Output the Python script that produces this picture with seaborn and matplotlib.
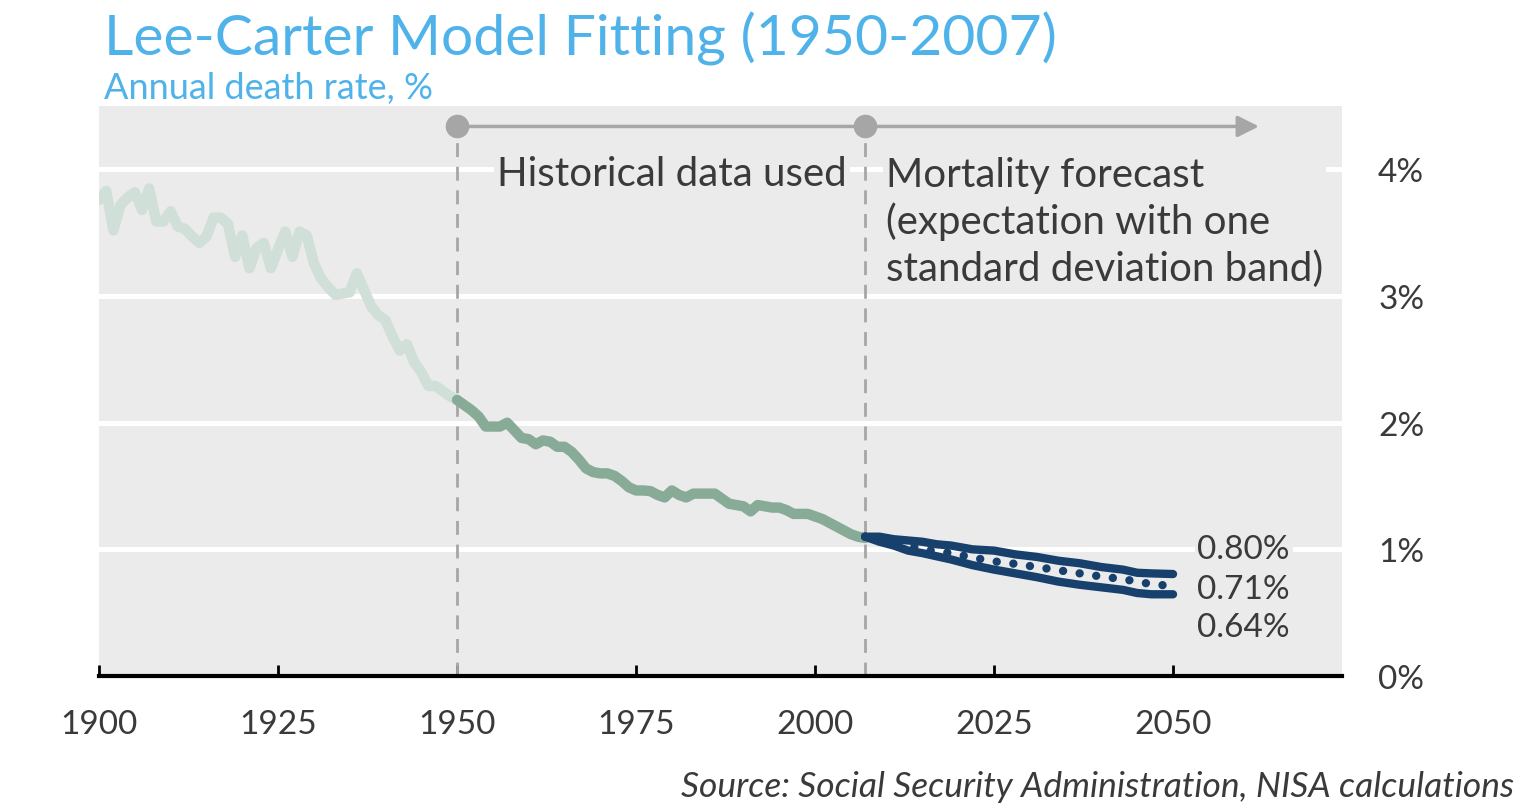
import matplotlib
matplotlib.use("Agg")
import matplotlib.pyplot as plt
import seaborn as sns
import pandas as pd
from matplotlib import font_manager

# ---- data (annual death rate, %) ----
early_years = list(range(1900, 1951))
early_rate = [3.76, 3.83, 3.52, 3.72, 3.78, 3.82, 3.68, 3.85, 3.59, 3.59,
              3.67, 3.55, 3.53, 3.47, 3.42, 3.47, 3.62, 3.62, 3.57, 3.31,
              3.48, 3.22, 3.38, 3.42, 3.22, 3.37, 3.51, 3.31, 3.51, 3.48,
              3.26, 3.14, 3.07, 3.01, 3.02, 3.03, 3.18, 3.05, 2.92, 2.85,
              2.81, 2.68, 2.57, 2.62, 2.48, 2.40, 2.29, 2.29, 2.25, 2.21,
              2.18]

fit_years = list(range(1950, 2008))
fit_rate = [2.18, 2.14, 2.10, 2.05, 1.97, 1.97, 1.97, 2.00, 1.94, 1.88,
            1.87, 1.83, 1.86, 1.85, 1.81, 1.81, 1.77, 1.71, 1.64, 1.61,
            1.60, 1.60, 1.58, 1.54, 1.49, 1.465, 1.465, 1.46, 1.43, 1.41,
            1.465, 1.43, 1.41, 1.44, 1.44, 1.44, 1.44, 1.40, 1.36, 1.35,
            1.34, 1.30, 1.35, 1.34, 1.33, 1.33, 1.31, 1.28, 1.28, 1.28,
            1.26, 1.24, 1.21, 1.18, 1.15, 1.12, 1.10, 1.09]

fc_years = [2007, 2009, 2011, 2013, 2015, 2017, 2019, 2022, 2025, 2028,
            2031, 2034, 2037, 2040, 2043, 2045, 2047, 2050]
fc_upper = [1.10, 1.10, 1.08, 1.07, 1.06, 1.04, 1.03, 1.00, 0.99, 0.96,
            0.94, 0.91, 0.89, 0.86, 0.84, 0.815, 0.81, 0.805]
fc_lower = [1.10, 1.06, 1.03, 0.99, 0.97, 0.945, 0.92, 0.875, 0.84, 0.81,
            0.78, 0.745, 0.72, 0.70, 0.68, 0.655, 0.645, 0.645]
fc_mean = [1.10, 1.08, 1.05, 1.03, 1.00, 0.985, 0.97, 0.935, 0.905, 0.885,
           0.86, 0.835, 0.81, 0.785, 0.765, 0.745, 0.725, 0.71]

end_labels = ["0.80%", "0.71%", "0.64%"]
x_ticks = [1900, 1925, 1950, 1975, 2000, 2025, 2050]
y_ticks = [0, 1, 2, 3, 4]
y_ticklabels = ["0%", "1%", "2%", "3%", "4%"]

# ---- style ----
sns.set_theme(style="white")
names = {f.name for f in font_manager.fontManager.ttflist}
base_font = "Lato" if "Lato" in names else "DejaVu Sans"
plt.rcParams["font.family"] = [base_font, "DejaVu Sans"]

BG = "#ebebeb"
TXT = "#3a3a3a"
GRAY = "#a6a6a6"
LIGHT_GREEN = "#d0dfd7"
GREEN = "#88ab98"
NAVY = "#17406d"
BLUE = "#4fb3ea"

fig = plt.figure(figsize=(15.36, 8.12), dpi=100)
ax = fig.add_axes([0.0645, 0.1663, 0.8092, 0.7017])
ax.set_facecolor(BG)

early = pd.DataFrame({"year": early_years, "rate": early_rate})
fit = pd.DataFrame({"year": fit_years, "rate": fit_rate})
fc = pd.DataFrame({"year": fc_years, "upper": fc_upper,
                   "lower": fc_lower, "mean": fc_mean})

for y in y_ticks[1:]:
    ax.axhline(y, color="white", lw=3.6, zorder=1)

sns.lineplot(data=early, x="year", y="rate", ax=ax, color=LIGHT_GREEN,
             lw=7.5, zorder=3, solid_capstyle="round", solid_joinstyle="round")
sns.lineplot(data=fit, x="year", y="rate", ax=ax, color=GREEN,
             lw=7.5, zorder=3, solid_capstyle="round", solid_joinstyle="round")
sns.lineplot(data=fc, x="year", y="upper", ax=ax, color=NAVY, lw=6,
             zorder=4, solid_capstyle="round", solid_joinstyle="round")
sns.lineplot(data=fc, x="year", y="lower", ax=ax, color=NAVY, lw=6,
             zorder=4, solid_capstyle="round", solid_joinstyle="round")
sns.lineplot(data=fc, x="year", y="mean", ax=ax, color=NAVY, lw=6,
             zorder=4, linestyle=(0, (0.01, 2.0)), dash_capstyle="round")

# timeline markers
tl_y = 4.34
for yr in (1950, 2007):
    ax.plot([yr, yr], [0, tl_y], color=GRAY, lw=2, ls=(0, (5, 3.5)), zorder=2)
ax.annotate("", xy=(2062, tl_y), xytext=(1950, tl_y),
            arrowprops=dict(arrowstyle="-|>", color=GRAY, lw=2.5,
                            mutation_scale=32, shrinkA=0, shrinkB=0),
            zorder=5)
ax.plot([1950, 2007], [tl_y, tl_y], "o", color=GRAY, ms=16, zorder=6)

box = dict(facecolor=BG, edgecolor="none", pad=2)
ax.text(1955.6, 3.97, "Historical data used", fontsize=29, color=TXT,
        va="center", ha="left", bbox=box, zorder=3)
ax.text(2009.9, 4.11, "Mortality forecast\n(expectation with one\nstandard deviation band)",
        fontsize=29, color=TXT, va="top", ha="left",
        linespacing=1.29, bbox=box, zorder=3)

for lab, yv in zip(end_labels, [1.0, 0.69, 0.39]):
    ax.text(2053.4, yv, lab, fontsize=24, color=TXT,
            va="center", ha="left", bbox=box, zorder=3)

ax.set_xlim(1900, 2073.6)
ax.set_ylim(0, 4.5)
ax.set_xticks(x_ticks)
ax.set_xticklabels([str(t) for t in x_ticks], fontsize=24, color=TXT)
ax.set_yticks(y_ticks)
ax.set_yticklabels(y_ticklabels, fontsize=24, color=TXT)
ax.yaxis.tick_right()
ax.tick_params(axis="y", length=0, pad=26)
ax.tick_params(axis="x", direction="in", length=8, width=2, color="black",
               pad=24, bottom=True)
ax.set_xlabel("")
ax.set_ylabel("")
for s in ["top", "right", "left"]:
    ax.spines[s].set_visible(False)
ax.spines["bottom"].set_color("black")
ax.spines["bottom"].set_linewidth(3)
ax.spines["bottom"].set_zorder(7)

fig.text(0.068, 0.932, "Lee-Carter Model Fitting (1950-2007)", fontsize=41,
         color=BLUE, ha="left", va="baseline")
fig.text(0.068, 0.878, "Annual death rate, %", fontsize=26, color=BLUE,
         ha="left", va="baseline")
fig.text(0.986, 0.018, "Source: Social Security Administration, NISA calculations",
         fontsize=25.5, color=TXT, style="italic",
         ha="right", va="baseline")

fig.savefig("out.png", dpi=100, facecolor="white")
